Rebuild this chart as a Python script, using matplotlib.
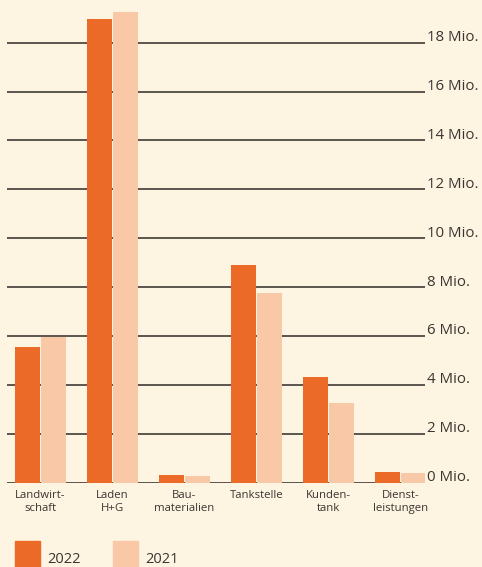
import matplotlib.pyplot as plt
import numpy as np

plt.rcParams['font.family'] = ['Open Sans', 'DejaVu Sans']

# Daten (Mio.)
kategorien = ['Landwirt-\nschaft', 'Laden\nH+G', 'Bau-\nmaterialien',
              'Tankstelle', 'Kunden-\ntank', 'Dienst-\nleistungen']
werte_2022 = [5.55, 18.95, 0.33, 8.9, 4.33, 0.45]
werte_2021 = [5.97, 19.25, 0.29, 7.76, 3.27, 0.41]
ticks = [0, 2, 4, 6, 8, 10, 12, 14, 16, 18]

bg = '#fef4e2'
orange = '#ec6a28'
pfirsich = '#f9c8a6'
text_c = '#3a3530'

fig = plt.figure(figsize=(4.82, 5.67), dpi=100, facecolor=bg)
ax = fig.add_axes([7/482, 84/567, 418/482, 482/567])
ax.set_facecolor(bg)

x = np.arange(len(kategorien))
w = 25/72
ax.bar(x - 13/72, werte_2022, width=w, color=orange, zorder=2)
ax.bar(x + 13/72, werte_2021, width=w, color=pfirsich, zorder=2)

for t in ticks:
    ax.axhline(t, color='#3f3a35', lw=1.2, zorder=1)
    ax.text(1.005, t + 0.07, f'{t} Mio.', transform=ax.get_yaxis_transform(),
            ha='left', va='baseline', fontsize=10.8, color=text_c)

ax.set_xlim(-0.465, 5.34)
ax.set_ylim(0, 19.7)
ax.set_xticks([])
ax.set_yticks([])
for s in ax.spines.values():
    s.set_visible(False)

for i, k in enumerate(kategorien):
    ax.text(i, -0.3, k, ha='center', va='top', fontsize=8.2, color=text_c,
            linespacing=1.15)

# Legende
fig.patches.append(plt.Rectangle((15/482, 0), 25/482, 26/567, transform=fig.transFigure,
                                 color=orange))
fig.patches.append(plt.Rectangle((113/482, 0), 25/482, 26/567, transform=fig.transFigure,
                                 color=pfirsich))
fig.text(47/482, 4/567, '2022', fontsize=10.5, color=text_c, va='baseline')
fig.text(145/482, 4/567, '2021', fontsize=10.5, color=text_c, va='baseline')

fig.savefig('out.png', dpi=100, facecolor=bg)
